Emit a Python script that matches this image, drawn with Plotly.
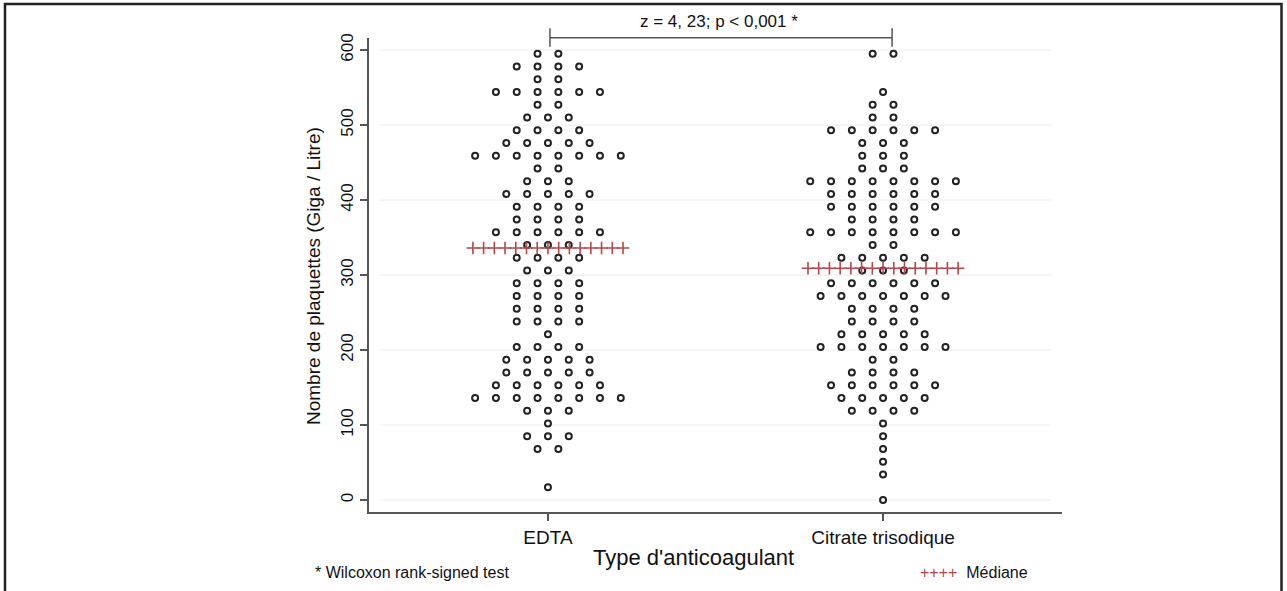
import plotly.graph_objects as go

# ---------------- data ----------------
groups = ["EDTA", "Citrate trisodique"]
group_pos = [1, 2]

edta_bins = [595, 578, 561, 544, 527, 510, 493, 476, 459, 442, 425, 408, 391, 374, 357,
             340, 323, 306, 289, 272, 255, 238, 221, 204, 187, 170, 153, 136, 119, 102,
             85, 68, 17]
edta_counts = [2, 4, 2, 6, 2, 3, 4, 5, 8, 2, 3, 5, 4, 4, 6,
               3, 4, 3, 4, 4, 4, 4, 1, 4, 5, 5, 6, 8, 3, 1,
               3, 2, 1]

citrate_bins = [595, 544, 527, 510, 493, 476, 459, 442, 425, 408, 391, 374, 357, 340,
                323, 306, 289, 272, 255, 238, 221, 204, 187, 170, 153, 136, 119, 102,
                85, 68, 51, 34, 0]
citrate_counts = [2, 1, 2, 2, 6, 3, 3, 3, 8, 6, 6, 4, 8, 2,
                  5, 3, 6, 7, 4, 4, 5, 7, 2, 4, 6, 5, 4, 1,
                  1, 1, 1, 1, 1]

medians = [336, 309]
y_ticks = [0, 100, 200, 300, 400, 500, 600]

stat_text = "z = 4, 23; p < 0,001 *"
footnote = "* Wilcoxon rank-signed test"

# ---------------- layout constants ----------------
FIG_W, FIG_H = 1287, 591
L, R, T, B = 369, 225, 38, 79
PW = FIG_W - L - R
PH = FIG_H - T - B
X_RANGE = [0.466, 2.534]
Y_RANGE = [-16, 616]
DOT_STEP = 0.0621      # horizontal spacing of stacked dots
MED_STEP = 0.032       # spacing of median crosses
N_MED = 15

def px_x(px):
    return (px - L) / PW

def px_y(py):
    return (FIG_H - B - py) / PH

def data_x_to_paper(x):
    return (x - X_RANGE[0]) / (X_RANGE[1] - X_RANGE[0])

def swarm(center, bins, counts):
    xs, ys = [], []
    for v, n in zip(bins, counts):
        for i in range(n):
            xs.append(center + (i - (n - 1) / 2) * DOT_STEP)
            ys.append(v)
    return xs, ys

fig = go.Figure()

for g, pos, bins, counts in [(groups[0], group_pos[0], edta_bins, edta_counts),
                              (groups[1], group_pos[1], citrate_bins, citrate_counts)]:
    xs, ys = swarm(pos, bins, counts)
    fig.add_trace(go.Scatter(
        x=xs, y=ys, mode="markers", name=g, showlegend=False,
        marker=dict(symbol="circle-open", size=6, color="#222222",
                    line=dict(width=2, color="#222222")),
        hoverinfo="y"))

for pos, m in zip(group_pos, medians):
    mx = [pos + (i - (N_MED - 1) / 2) * MED_STEP for i in range(N_MED)]
    fig.add_trace(go.Scatter(
        x=mx, y=[m] * N_MED, mode="markers", showlegend=False, name="Médiane",
        marker=dict(symbol="cross-thin", size=9, color="#b5474a",
                    line=dict(width=1.6, color="#b5474a"))))

shapes = []
# light grid lines (inset like the original)
for t in y_ticks:
    shapes.append(dict(type="line", xref="x", yref="y", x0=0.5, x1=2.5, y0=t, y1=t,
                       line=dict(color="#ececec", width=1), layer="below"))

# significance bracket
bx0 = data_x_to_paper(group_pos[0] + 0.006)
bx1 = data_x_to_paper(group_pos[1] + 0.027)
by = px_y(37.7)
shapes += [
    dict(type="line", xref="paper", yref="paper", x0=bx0, x1=bx1, y0=by, y1=by,
         line=dict(color="#555555", width=1.5)),
    dict(type="line", xref="paper", yref="paper", x0=bx0, x1=bx0, y0=px_y(28.3), y1=px_y(46.7),
         line=dict(color="#555555", width=1.5)),
    dict(type="line", xref="paper", yref="paper", x0=bx1, x1=bx1, y0=px_y(28.3), y1=px_y(46.7),
         line=dict(color="#555555", width=1.5)),
]
# outer frame
shapes.append(dict(type="rect", xref="paper", yref="paper",
                   x0=px_x(5), x1=px_x(1281.5), y0=px_y(600), y1=px_y(4),
                   line=dict(color="#222222", width=2.5)))

font = "Liberation Sans, Arial, sans-serif"
txt = "#111111"

def ann(text, x, y, size, xanchor="center", **kw):
    return dict(text=text, xref="paper", yref="paper", x=x, y=y, showarrow=False,
                xanchor=xanchor, yanchor="middle",
                font=dict(size=size, color=txt, family=font), **kw)

annotations = [
    ann("Nombre de plaquettes (Giga / Litre)", px_x(313), px_y(276), 19, textangle=-90),
    ann("Type d'anticoagulant", px_x(693), px_y(557), 22),
    ann(footnote, px_x(313), px_y(572), 16, xanchor="left"),
    ann('<span style="color:#b5474a">++++</span>  Médiane', px_x(918), px_y(572), 16,
        xanchor="left"),
    ann(stat_text, px_x(719), px_y(21), 17),
]

fig.update_layout(
    width=FIG_W, height=FIG_H,
    margin=dict(l=L, r=R, t=T, b=B),
    paper_bgcolor="white", plot_bgcolor="white",
    font=dict(family=font, color=txt),
    shapes=shapes, annotations=annotations,
    xaxis=dict(range=X_RANGE, tickmode="array", tickvals=group_pos, ticktext=groups,
               showgrid=False, zeroline=False, showline=True, linecolor="#555555",
               linewidth=2, ticks="outside", ticklen=7, tickcolor="#555555", tickwidth=1.5,
               tickfont=dict(size=19, color=txt)),
    yaxis=dict(range=Y_RANGE, tickmode="array", tickvals=y_ticks,
               showgrid=False, zeroline=False, showline=True, linecolor="#555555",
               linewidth=2, ticks="outside", ticklen=7, tickcolor="#555555", tickwidth=1.5,
               tickangle=-90, tickfont=dict(size=17, color=txt)),
)

fig.write_html("out.html", config={"displayModeBar": False},
               post_script="document.body.style.margin='0px';")
